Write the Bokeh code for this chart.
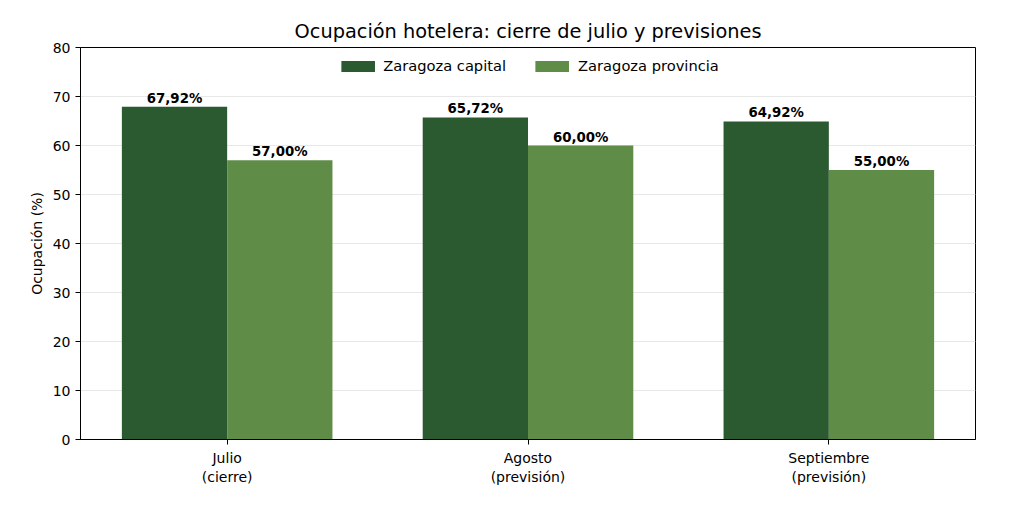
from bokeh.plotting import figure
from bokeh.models import ColumnDataSource, Range1d, FixedTicker, Legend, LegendItem
from bokeh.embed import file_html
from bokeh.resources import INLINE
from bokeh.core.properties import value

categories = ["Julio\n(cierre)", "Agosto\n(previsión)", "Septiembre\n(previsión)"]
capital = [67.92, 65.72, 64.92]
provincia = [57.00, 60.00, 55.00]
series_names = ["Zaragoza capital", "Zaragoza provincia"]
colors = ["#2b5a31", "#5f8c47"]
yticks = [0, 10, 20, 30, 40, 50, 60, 70, 80]

FONT = "DejaVu Sans"
w = 0.35
p = figure(width=1000, height=495, output_backend="svg", toolbar_location=None,
           x_range=Range1d(-0.4875, 2.4875), y_range=Range1d(0, 80),
           min_border_left=80, min_border_right=25, min_border_top=47, min_border_bottom=56)
p.title.text = "Ocupación hotelera: cierre de julio y previsiones"
p.title.align = "center"
p.title.text_font = FONT
p.title.text_font_size = "14.5pt"
p.title.text_font_style = "normal"
p.title.text_color = "black"

xs = list(range(len(categories)))
renderers = []
for k, (vals, off) in enumerate([(capital, -w / 2), (provincia, w / 2)]):
    src = ColumnDataSource(dict(x=[i + off for i in xs], top=vals,
                                lab=[f"{v:.2f}%".replace(".", ",") for v in vals]))
    r = p.vbar(x="x", top="top", width=w, source=src, fill_color=colors[k], line_color=None)
    renderers.append(r)
    p.text(x="x", y="top", text="lab", source=src, text_align="center", text_baseline="bottom",
           text_font=value(FONT), text_font_style="bold", text_font_size="10pt", y_offset=-1)

legend = Legend(items=[LegendItem(label=n, renderers=[r]) for n, r in zip(series_names, renderers)],
                orientation="horizontal", location="top_center", border_line_color=None,
                background_fill_alpha=0.0, label_text_font=FONT, label_text_font_size="11pt",
                label_text_color="black", glyph_width=42, glyph_height=14, spacing=25)
p.add_layout(legend, "center")

p.xaxis.ticker = FixedTicker(ticks=xs)
p.xaxis.major_label_overrides = {i: c for i, c in zip(xs, categories)}
p.yaxis.ticker = FixedTicker(ticks=yticks)
p.yaxis.axis_label = "Ocupación (%)"
for ax in (p.xaxis, p.yaxis):
    ax.major_label_text_font = FONT
    ax.major_label_text_font_size = "10.5pt"
    ax.major_label_text_color = "black"
    ax.axis_line_color = "black"
    ax.major_tick_line_color = "black"
    ax.minor_tick_line_color = None
    ax.major_tick_out = 5
    ax.major_tick_in = 0
p.yaxis.axis_label_text_font = FONT
p.yaxis.axis_label_text_font_size = "10.5pt"
p.yaxis.axis_label_text_font_style = "normal"
p.yaxis.axis_label_text_color = "black"
p.xgrid.grid_line_color = None
p.ygrid.grid_line_color = "#e8e8e8"
p.outline_line_color = "black"
p.outline_line_alpha = 1

open("out.html", "w").write(file_html(p, INLINE))
